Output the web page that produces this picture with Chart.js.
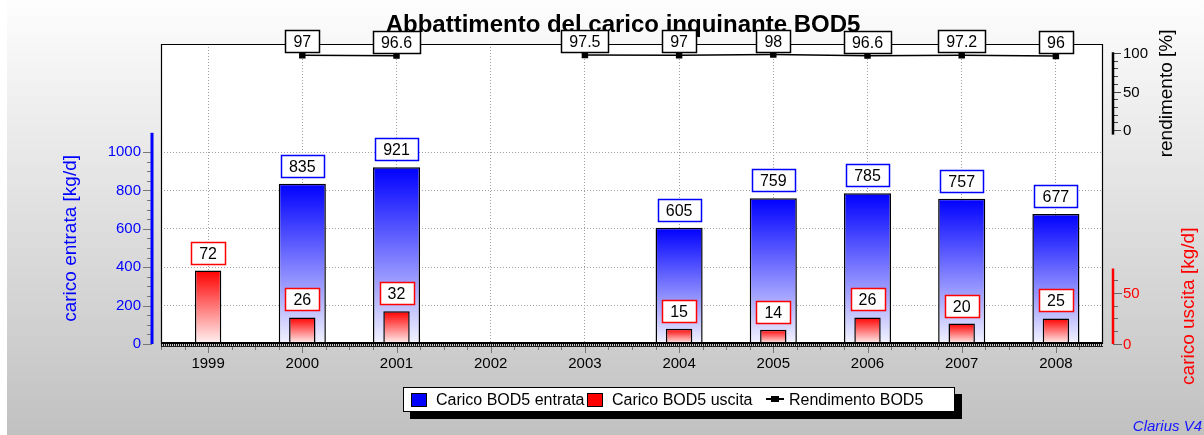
<!DOCTYPE html>
<html><head><meta charset="utf-8">
<script src="https://cdn.jsdelivr.net/npm/chart.js@4/dist/chart.umd.min.js"></script>
<style>
html,body{margin:0;padding:0;}
body{width:1204px;height:435px;overflow:hidden;position:relative;font-family:'Liberation Sans',Arial,sans-serif;}
#wrap{position:absolute;left:0;top:0;width:1204px;height:435px;}
#legend{position:absolute;left:403px;top:387px;width:550px;height:23px;background:#fff;border:1px solid #000;box-shadow:7px 7px 0 #000;}
.li{position:absolute;top:0;height:23px;line-height:24px;font-size:16px;color:#000;white-space:nowrap;}
.sw{position:absolute;top:5px;width:14px;height:12px;border:1px solid #000;}
.ls{position:absolute;top:10px;width:18px;height:2px;background:#000;}
.lp{position:absolute;top:8px;width:8px;height:6px;background:#000;}
</style></head>
<body>
<div id="wrap"><canvas id="c" width="1204" height="435"></canvas></div>
<div id="legend"></div>
<script>
// ---------- data ----------
const years = ['1999','2000','2001','2002','2003','2004','2005','2006','2007','2008'];
const caricoEntrata = [null, 835, 921, null, null, 605, 759, 785, 757, 677];
const caricoUscita  = [72, 26, 32, null, null, 15, 14, 26, 20, 25];
const rendimento    = [null, 97, 96.6, null, 97.5, 97, 98, 96.6, 97.2, 96];
const entrataTicks = [0, 200, 400, 600, 800, 1000];
const uscitaTicks = [0, 50];
const rendimentoTicks = [0, 50, 100];
const seriesNames = ['Carico BOD5 entrata', 'Carico BOD5 uscita', 'Rendimento BOD5'];
const titleText = 'Abbattimento del carico inquinante BOD5';
const axisTitles = ['carico entrata [kg/d]', 'carico uscita [kg/d]', 'rendimento [%]'];
const footerText = 'Clarius V4';

const FONT = '"Liberation Sans", Arial, Helvetica, sans-serif';

function barGradient(axisId, topColor, bottomColor) {
  return function (c) {
    const chart = c.chart;
    if (!chart.chartArea || c.type !== 'data' || c.raw == null) return topColor;
    const s = chart.scales[axisId];
    const y0 = s.getPixelForValue(c.raw), y1 = s.getPixelForValue(0);
    if (!isFinite(y0) || !isFinite(y1) || y0 === y1) return topColor;
    const g = chart.ctx.createLinearGradient(0, y0, 0, y1);
    g.addColorStop(0, topColor);
    g.addColorStop(1, bottomColor);
    return g;
  };
}

function boxLabel(ctx, cx, bottom, text, stroke) {
  ctx.font = '16px ' + FONT;
  const w = Math.round(ctx.measureText(text).width + 16), h = 22;
  const x = Math.round(cx - w / 2) + 0.5, y = Math.round(bottom - h) + 0.5;
  ctx.fillStyle = '#fff';
  ctx.fillRect(x, y, w, h);
  ctx.strokeStyle = stroke; ctx.lineWidth = 1.5;
  ctx.strokeRect(x, y, w, h);
  ctx.fillStyle = '#000'; ctx.textAlign = 'center'; ctx.textBaseline = 'middle';
  ctx.fillText(text, cx, y + h / 2 + 1);
}

function vText(ctx, text, x, y, color) {
  ctx.save();
  ctx.translate(x, y); ctx.rotate(-Math.PI / 2);
  ctx.font = '19px ' + FONT; ctx.fillStyle = color;
  ctx.textAlign = 'center'; ctx.textBaseline = 'middle';
  ctx.fillText(text, 0, 0);
  ctx.restore();
}

const deco = {
  id: 'deco',
  beforeDraw(chart) {
    const { ctx, chartArea: a, width, height } = chart;
    ctx.save();
    const g = ctx.createLinearGradient(0, 0, 0, height);
    g.addColorStop(0, '#fdfdfd'); g.addColorStop(1, '#c1c1c1');
    ctx.fillStyle = g; ctx.fillRect(0, 0, width, height);
    ctx.fillStyle = '#fff'; ctx.fillRect(0, 0, 7, height);
    ctx.fillStyle = '#fff'; ctx.fillRect(a.left, a.top, a.right - a.left, a.bottom - a.top);
    ctx.font = 'bold 24px ' + FONT; ctx.fillStyle = '#000';
    ctx.textAlign = 'center'; ctx.textBaseline = 'alphabetic';
    ctx.fillText(titleText, 623, 32);
    ctx.restore();
  },
  afterDraw(chart) {
    const { ctx, chartArea: a } = chart;
    const xs = chart.scales.x, ys = chart.scales.y, y2 = chart.scales.y2, y3 = chart.scales.y3;
    ctx.save();
    // plot frame
    ctx.strokeStyle = '#000'; ctx.lineWidth = 1.2;
    ctx.beginPath();
    ctx.moveTo(a.left + 0.5, a.bottom); ctx.lineTo(a.left + 0.5, a.top + 0.5);
    ctx.lineTo(a.right - 0.5, a.top + 0.5); ctx.lineTo(a.right - 0.5, a.bottom);
    ctx.stroke();
    // bottom ruler
    ctx.fillStyle = '#000';
    ctx.fillRect(a.left, a.bottom - 2, a.right - a.left, 2);
    ctx.fillStyle = '#111';
    for (let x = a.left; x < a.right; x += 2) ctx.fillRect(x, a.bottom, 1, 2);
    ctx.fillStyle = '#222';
    ctx.fillRect(a.left, a.bottom + 2, a.right - a.left, 1);
    // x tick marks (quarter categories)
    ctx.strokeStyle = '#777'; ctx.lineWidth = 1;
    for (let q = -2; q <= (years.length - 1) * 4 + 2; q++) {
      const px = Math.round(xs.getPixelForValue(q / 4)) + 0.5;
      if (px < a.left || px > a.right) continue;
      const len = q % 4 === 0 ? 6 : 3;
      ctx.beginPath(); ctx.moveTo(px, a.bottom + 3); ctx.lineTo(px, a.bottom + 3 + len); ctx.stroke();
    }
    // left axis (entrata)
    const lx = a.left - 9;
    ctx.strokeStyle = '#777'; ctx.lineWidth = 1;
    for (let v = 0; v <= 1000; v += 50) {
      const py = Math.round(ys.getPixelForValue(v)) + 0.5;
      const len = v % 200 === 0 ? 9 : 5;
      ctx.beginPath(); ctx.moveTo(lx - len, py); ctx.lineTo(lx, py); ctx.stroke();
    }
    ctx.strokeStyle = '#0000ff'; ctx.lineWidth = 3;
    ctx.beginPath(); ctx.moveTo(lx, ys.getPixelForValue(0)); ctx.lineTo(lx, ys.getPixelForValue(1100)); ctx.stroke();
    vText(ctx, axisTitles[0], 71, (ys.getPixelForValue(0) + ys.getPixelForValue(1100)) / 2, '#0000ff');
    // right axes
    const rx = a.right + 10;
    ctx.font = '15px ' + FONT; ctx.textAlign = 'left'; ctx.textBaseline = 'middle';
    // rendimento
    ctx.strokeStyle = '#444'; ctx.lineWidth = 1;
    for (let v = 0; v <= 100; v += 10) {
      const py = Math.round(y3.getPixelForValue(v)) + 0.5;
      const len = v % 50 === 0 ? 8 : 5;
      ctx.beginPath(); ctx.moveTo(rx, py); ctx.lineTo(rx + len, py); ctx.stroke();
    }
    ctx.strokeStyle = '#000'; ctx.lineWidth = 2.5;
    ctx.beginPath(); ctx.moveTo(rx, y3.getPixelForValue(-6)); ctx.lineTo(rx, y3.getPixelForValue(101)); ctx.stroke();
    ctx.fillStyle = '#000';
    rendimentoTicks.forEach(v => ctx.fillText(String(v), rx + 10, y3.getPixelForValue(v) + 1));
    vText(ctx, axisTitles[2], 1167, (y3.getPixelForValue(-6) + y3.getPixelForValue(101)) / 2, '#000');
    // uscita
    ctx.font = '15px ' + FONT; ctx.textAlign = 'left'; ctx.textBaseline = 'middle';
    ctx.strokeStyle = '#666'; ctx.lineWidth = 1;
    for (let v = 0; v <= 62.5; v += 12.5) {
      const py = Math.round(y2.getPixelForValue(v)) + 0.5;
      const len = v % 50 === 0 ? 9 : 5;
      ctx.beginPath(); ctx.moveTo(rx, py); ctx.lineTo(rx + len, py); ctx.stroke();
    }
    ctx.strokeStyle = '#ff0000'; ctx.lineWidth = 2.5;
    ctx.beginPath(); ctx.moveTo(rx, y2.getPixelForValue(0)); ctx.lineTo(rx, y2.getPixelForValue(74)); ctx.stroke();
    ctx.fillStyle = '#ff0000';
    uscitaTicks.forEach(v => ctx.fillText(String(v), rx + 10, y2.getPixelForValue(v) + 1));
    vText(ctx, axisTitles[1], 1189, (y2.getPixelForValue(0) + y2.getPixelForValue(74)) / 2, '#ff0000');
    // value labels
    const mE = chart.getDatasetMeta(0), mU = chart.getDatasetMeta(1), mR = chart.getDatasetMeta(2);
    caricoEntrata.forEach((v, i) => { if (v != null) boxLabel(ctx, mE.data[i].x, mE.data[i].y - 7, String(v), '#0000ff'); });
    caricoUscita.forEach((v, i) => { if (v != null) boxLabel(ctx, mU.data[i].x, mU.data[i].y - 7, String(v), '#ff0000'); });
    rendimento.forEach((v, i) => { if (v != null) boxLabel(ctx, mR.data[i].x, mR.data[i].y - 3, String(v), '#000'); });
    // footer
    ctx.font = 'italic 15px ' + FONT; ctx.fillStyle = '#1515ff';
    ctx.textAlign = 'right'; ctx.textBaseline = 'middle';
    ctx.fillText(footerText, 1202, 427);
    ctx.restore();
  }
};

const chart = new Chart(document.getElementById('c'), {
  type: 'bar',
  data: {
    labels: years,
    datasets: [
      { label: seriesNames[0], data: caricoEntrata, yAxisID: 'y', order: 2, grouped: false,
        barPercentage: 0.5, categoryPercentage: 1,
        backgroundColor: barGradient('y', '#0000ff', '#f4f4ff'), borderColor: '#000', borderWidth: 1.5 },
      { label: seriesNames[1], data: caricoUscita, yAxisID: 'y2', order: 1, grouped: false,
        barPercentage: 0.28, categoryPercentage: 1,
        backgroundColor: barGradient('y2', '#ff0000', '#fff4f4'), borderColor: '#000', borderWidth: 1.5 },
      { type: 'line', label: seriesNames[2], data: rendimento, yAxisID: 'y3', order: 0,
        borderColor: '#000', borderWidth: 1.5, pointStyle: 'rect', pointRadius: 3.5,
        pointBackgroundColor: '#000', pointBorderColor: '#000', spanGaps: false, fill: false }
    ]
  },
  options: {
    responsive: false, animation: false, events: [],
    layout: { padding: { left: 0, right: 101, top: 44, bottom: 0 } },
    plugins: { legend: { display: false }, title: { display: false }, tooltip: { enabled: false } },
    scales: {
      x: { type: 'category', offset: true,
        grid: { offset: false, color: '#a0a0a0', lineWidth: 1, drawTicks: false },
        border: { display: false, dash: [1, 2] },
        ticks: { color: '#000', font: { size: 15, family: FONT }, padding: 11, maxRotation: 0, autoSkip: false },
        afterFit(s) { s.height = 91; } },
      y: { position: 'left', min: 0, max: 1562.5,
        afterBuildTicks(s) { s.ticks = entrataTicks.map(v => ({ value: v })); },
        grid: { color: c => (c.tick && c.tick.value === 0) ? 'rgba(0,0,0,0)' : '#a0a0a0', drawTicks: false },
        border: { display: false, dash: [1, 2] },
        ticks: { color: '#0000ff', font: { size: 15, family: FONT }, padding: 20, callback: v => String(v) },
        afterFit(s) { s.width = 161; } },
      y2: { display: false, position: 'right', min: 0, max: 294 },
      y3: { display: false, position: 'right', min: -277.9, max: 111.7 }
    }
  },
  plugins: [deco]
});

// legend (HTML)
const legendItems = [
  { sw: 'sq', color: '#0000ff', swX: 7, txX: 32 },
  { sw: 'sq', color: '#ff0000', swX: 183, txX: 208 },
  { sw: 'line', color: '#000', swX: 362, txX: 385 }
];
const lg = document.getElementById('legend');
legendItems.forEach((it, i) => {
  if (it.sw === 'sq') {
    const d = document.createElement('div'); d.className = 'sw';
    d.style.left = it.swX + 'px'; d.style.background = it.color; lg.appendChild(d);
  } else {
    const l = document.createElement('div'); l.className = 'ls'; l.style.left = it.swX + 'px'; lg.appendChild(l);
    const p = document.createElement('div'); p.className = 'lp'; p.style.left = (it.swX + 5) + 'px'; lg.appendChild(p);
  }
  const t = document.createElement('div'); t.className = 'li';
  t.style.left = it.txX + 'px'; t.textContent = seriesNames[i]; lg.appendChild(t);
});
</script>
</body></html>
